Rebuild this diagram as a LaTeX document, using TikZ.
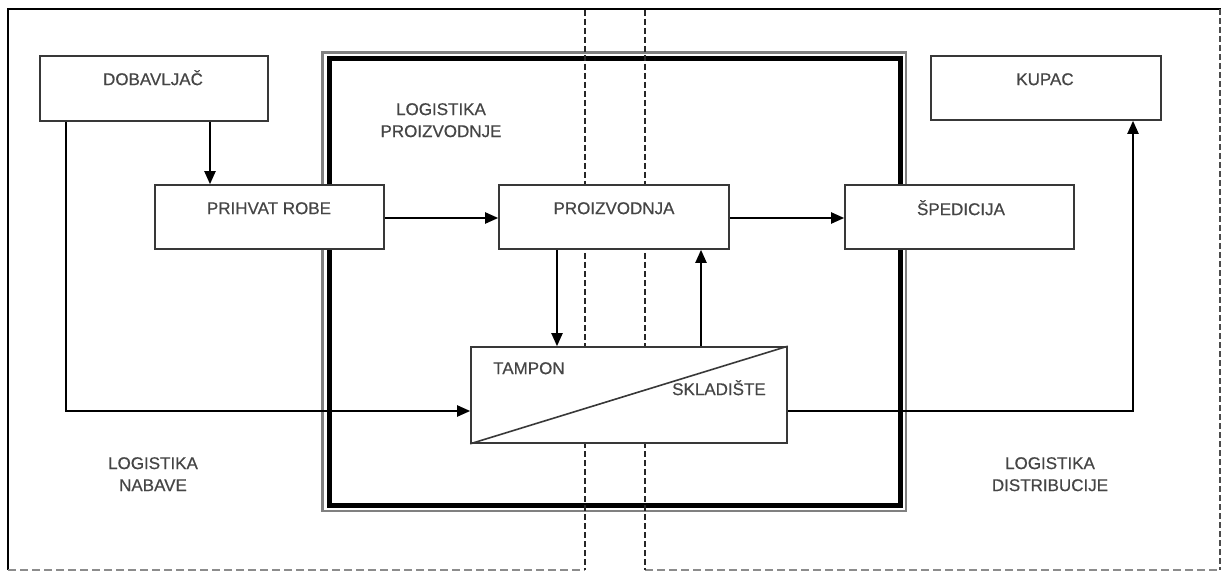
\documentclass[tikz,border=0pt]{standalone}
\usepackage{fontspec}
\setmainfont{Liberation Sans}
\newfontfamily\lblfont{Liberation Sans}[FakeBold=0.5]
\usetikzlibrary{arrows.meta}
\definecolor{boxgray}{HTML}{383838}
\definecolor{txtgray}{HTML}{454545}
\begin{document}
\begin{tikzpicture}[x=1pt,y=-1pt,
  box/.style={draw=boxgray,line width=1.6pt,fill=white,minimum width=#1,minimum height=64pt,inner sep=0pt},
  lbl/.style={text=txtgray,font=\lblfont\fontsize{17}{22}\selectfont,inner sep=0pt,text height=12.2pt,text depth=0pt},
  lbltwo/.style={text=txtgray,font=\lblfont\fontsize{17}{22}\selectfont,inner sep=0pt,align=center,anchor=north},
  conn/.style={draw=black,line width=2pt,-{Triangle[length=13pt,width=11pt]}},
  plainconn/.style={draw=boxgray,line width=1.6pt},
  sep/.style={draw=black!85,line width=1.3pt,dash pattern=on 6pt off 3pt}
]
\useasboundingbox[fill=white] (0,0) rectangle (1221,572);
% outer page edges
\draw[black,line width=1.5pt] (8,570) -- (8,9) -- (1221,9);
\draw[black!70,line width=1.3pt,dash pattern=on 6pt off 3pt] (1220,9) -- (1220,570);
\draw[black!45,line width=1.3pt,dash pattern=on 8pt off 4pt] (8,570) -- (585,570);
\draw[black!45,line width=1.3pt,dash pattern=on 8pt off 4pt] (645,570) -- (1220,570);
% production frame
\draw[black!50,line width=2.6pt] (322.5,52.5) rectangle (906,511);
\draw[black,line width=5pt] (329,59) rectangle (900,505);
% dashed separators
\draw[sep] (585,10) -- (585,570);
\draw[sep] (645,10) -- (645,570);
% boxes
\node[box=228pt,minimum height=65pt] (dob) at (154,88.5) {};
\node[box=230pt] (kup) at (1046,88) {};
\node[box=229pt] (pri) at (269.5,217) {};
\node[box=230pt] (pro) at (614,217) {};
\node[box=229pt] (spe) at (959.5,217) {};
\node[box=316pt,minimum height=96pt] (tam) at (629,395) {};
\draw[plainconn] (tam.south west) -- (tam.north east);
% labels
\node[lbl] (tdob) at (153,79) {DOBAVLJAČ};
\node[lbl] (tkup) at (1045,79) {KUPAC};
\node[lbl] (tpri) at (269,208) {PRIHVAT ROBE};
\node[lbl] (tpro) at (614,208) {PROIZVODNJA};
\node[lbl] (tspe) at (961,209) {ŠPEDICIJA};
\node[lbl,anchor=west] (ttam) at (493,368) {TAMPON};
\node[lbl,anchor=west] (tskl) at (672,389) {SKLADIŠTE};
\node[lbltwo] (lpro) at (441,103) {LOGISTIKA\\PROIZVODNJE};
\node[lbltwo] (lnab) at (153,457) {LOGISTIKA\\NABAVE};
\node[lbltwo] (ldis) at (1050,457) {LOGISTIKA\\DISTRIBUCIJE};
% connectors
\draw[conn] (dob.south -| 210,0) -- (pri.north -| 210,0);
\draw[conn] (dob.south -| 66,0) |- (tam.west |- 0,411);
\draw[conn] (pri.east |- 0,218) -- (pro.west |- 0,218);
\draw[conn] (pro.east |- 0,218) -- (spe.west |- 0,218);
\draw[conn] (pro.south -| 557,0) -- (tam.north -| 557,0);
\draw[conn] (tam.north -| 701,0) -- (pro.south -| 701,0);
\draw[conn] (tam.east |- 0,411) -| (kup.south -| 1133,0);
\end{tikzpicture}
\end{document}
